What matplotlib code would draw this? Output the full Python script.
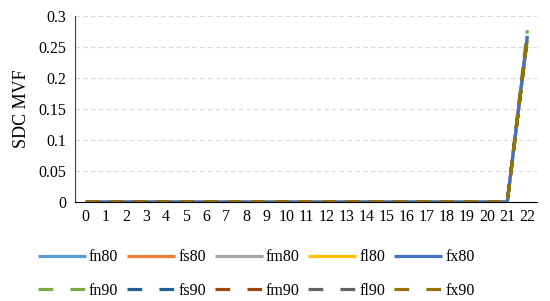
import matplotlib.pyplot as plt
from matplotlib.lines import Line2D
import numpy as np

plt.rcParams["font.family"] = ["Liberation Serif", "DejaVu Serif"]

steps = list(range(23))
labels = ["fn80", "fs80", "fm80", "fl80", "fx80",
          "fn90", "fs90", "fm90", "fl90", "fx90"]
colors = ["#5B9BD5", "#ED7D31", "#A5A5A5", "#FFC000", "#4472C4",
          "#70AD47", "#255E91", "#9E480E", "#636363", "#997300"]
peaks = [0.266, 0.265, 0.265, 0.265, 0.268,
         0.277, 0.265, 0.265, 0.265, 0.265]

fig = plt.figure(figsize=(5.5, 3.01), dpi=100)
ax = fig.add_axes([0.136, 0.329, 0.841, 0.618])

proxies = []
for i, (name, col, pk) in enumerate(zip(labels, colors, peaks)):
    vals = np.zeros(len(steps))
    vals[-1] = pk
    ls = "-" if i < 5 else (0, (4.2, 3.2))
    ax.plot(steps, vals, color=col, lw=2.3, ls=ls,
            solid_capstyle="butt", dash_capstyle="butt")
    leg_ls = "-" if i < 5 else (0, (4.6, 5.4))
    proxies.append(Line2D([], [], color=col, lw=2.3, ls=leg_ls,
                          solid_capstyle="butt", dash_capstyle="butt",
                          label=name))

ax.set_xlim(-0.55, 22.5)
ax.set_ylim(0, 0.3)
ax.set_yticks([0, 0.05, 0.1, 0.15, 0.2, 0.25, 0.3])
ax.set_yticklabels(["0", "0.05", "0.1", "0.15", "0.2", "0.25", "0.3"])
ax.set_xticks(steps)
ax.tick_params(length=0, labelsize=11.5, pad=6)
ax.tick_params(axis="x", pad=5)
ax.grid(axis="y", color="#d9d9d9", ls=(0, (4, 3)), lw=0.8)
ax.set_axisbelow(True)
for s in ["top", "right"]:
    ax.spines[s].set_visible(False)
ax.spines["left"].set_color("#404040")
ax.spines["bottom"].set_color("black")
ax.set_ylabel("SDC MVF", fontsize=13, labelpad=6)

# legend fills column by column, so interleave rows
order = []
for c in range(5):
    order += [proxies[c], proxies[c + 5]]
fig.legend(handles=order, loc="lower center", ncol=5, frameon=False,
           fontsize=11.5, bbox_to_anchor=(0.466, -0.04), handlelength=3.0,
           columnspacing=0.55, handletextpad=0.2, labelspacing=1.1)

fig.savefig("out.png", dpi=100)
